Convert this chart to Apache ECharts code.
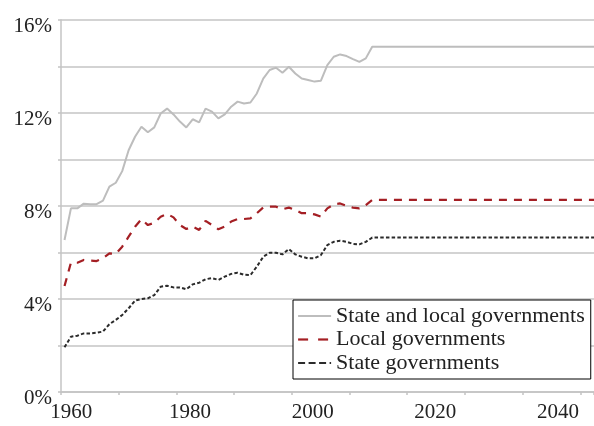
<!DOCTYPE html>
<html>
<head>
<meta charset="utf-8">
<script src="https://cdn.jsdelivr.net/npm/echarts@6/dist/echarts.min.js"></script>
<style>
html,body{margin:0;padding:0;background:#fff;}
#chart{width:594px;height:426px;}
</style>
</head>
<body>
<div id="chart"></div>
<script>
// ---- Data ----
const years = [1960,1961,1962,1963,1964,1965,1966,1967,1968,1969,
  1970,1971,1972,1973,1974,1975,1976,1977,1978,1979,
  1980,1981,1982,1983,1984,1985,1986,1987,1988,1989,
  1990,1991,1992,1993,1994,1995,1996,1997,1998,1999,
  2000,2001,2002,2003,2004,2005,2006,2007,2008];

const stateAndLocal = [6.54,7.9,7.9,8.1,8.08,8.08,8.23,8.83,9.0,9.5,
  10.4,10.98,11.41,11.17,11.38,11.98,12.19,11.94,11.63,11.38,
  11.73,11.6,12.19,12.06,11.77,11.94,12.27,12.49,12.41,12.45,
  12.84,13.48,13.85,13.95,13.73,13.99,13.7,13.48,13.42,13.35,
  13.39,14.06,14.42,14.52,14.45,14.32,14.2,14.35,14.85];

const localGov = [4.56,5.56,5.56,5.68,5.65,5.63,5.75,5.96,5.94,6.25,
  6.68,7.11,7.43,7.18,7.28,7.54,7.66,7.51,7.18,7.01,
  7.11,6.97,7.36,7.18,7.0,7.12,7.33,7.44,7.44,7.47,
  7.69,7.94,7.97,7.97,7.86,7.93,7.83,7.69,7.69,7.64,
  7.54,7.9,8.07,8.11,8.01,7.93,7.9,8.04,8.26];

const stateGov = [1.92,2.38,2.42,2.52,2.52,2.55,2.6,2.92,3.1,3.31,
  3.6,3.93,4.0,4.03,4.17,4.53,4.57,4.5,4.5,4.42,
  4.63,4.7,4.85,4.9,4.82,4.96,5.08,5.13,5.04,5.03,
  5.39,5.82,5.99,5.99,5.92,6.15,5.92,5.82,5.75,5.75,
  5.89,6.32,6.46,6.51,6.46,6.37,6.35,6.46,6.64];

const projectionEndYear = 2050;   // last value held flat to the right edge

const seriesNames = ['State and local governments','Local governments','State governments'];
const xLabelValues = [1960,1980,2000,2020,2040];

// ---- helpers ----
function toPairs(vals){
  const p = years.map((y,i)=>[y, vals[i]]);
  p.push([projectionEndYear, vals[vals.length-1]]);
  return p;
}

const FONT = '"Liberation Serif", "Times New Roman", serif';
const GRID_COLOR = '#c4c4c4';
const TEXT_COLOR = '#222';
const GRAY = '#bdbdbd', RED = '#a41f24', BLACK = '#2b2b2b';

const chart = echarts.init(document.getElementById('chart'), null, {renderer:'canvas'});

const option = {
  animation: false,
  backgroundColor: '#fff',
  textStyle: { fontFamily: FONT },
  grid: { left: 61, top: 20, right: 0, bottom: 34, containLabel: false },
  legend: {
    data: [
      { name: seriesNames[0] },
      { name: seriesNames[1], lineStyle: { type: [10, 10], width: 2.2, color: RED } },
      { name: seriesNames[2], lineStyle: { type: [7, 3.5], width: 2, color: BLACK } }
    ],
    orient: 'vertical',
    left: 293, top: 300,
    padding: [5, 6, 5, 4],
    itemWidth: 33, itemHeight: 14, itemGap: 1.5,
    itemTextGap: 5,
    itemStyle: { opacity: 0 },
    backgroundColor: '#fff',
    borderColor: '#000', borderWidth: 1,
    textStyle: { fontFamily: FONT, fontSize: 22, color: TEXT_COLOR, lineHeight: 22 }
  },
  xAxis: [
    { // data scale
      type: 'value', position: 'bottom',
      min: 1959.45, max: 2042.6,
      axisLine: { show: true, lineStyle: { color: GRID_COLOR, width: 1.5 } },
      axisTick: { show: false }, axisLabel: { show: false }, splitLine: { show: false }
    },
    { // label scale
      type: 'value', position: 'bottom', offset: 0,
      min: 1958.97, max: 2045.88,
      axisLine: { show: false }, axisTick: { show: false }, splitLine: { show: false },
      axisLabel: {
        customValues: xLabelValues,
        margin: 10, fontFamily: FONT, fontSize: 21, color: TEXT_COLOR,
        formatter: v => v === xLabelValues[0] ? '{f|' + v + '}' : String(v),
        rich: { f: { fontFamily: FONT, fontSize: 21, color: TEXT_COLOR, padding: [0,0,0,8] } }
      }
    },
    { // tick marks
      type: 'value', position: 'bottom', offset: 0,
      min: 0, max: 533/57.7, interval: 1,
      axisLine: { show: false }, splitLine: { show: false }, axisLabel: { show: false },
      axisTick: { show: true, length: 3, lineStyle: { color: GRID_COLOR, width: 1.5 } }
    }
  ],
  yAxis: {
    type: 'value', min: 0, max: 16, interval: 2,
    axisLine: { show: true, lineStyle: { color: GRID_COLOR, width: 1.5 } },
    axisTick: { show: true, length: 3, lineStyle: { color: GRID_COLOR, width: 1.5 } },
    splitLine: { show: true, lineStyle: { color: GRID_COLOR, width: 1.5 } },
    axisLabel: {
      margin: 9, fontFamily: FONT, fontSize: 21, color: TEXT_COLOR,
      verticalAlign: 'top', lineHeight: 12,
      formatter: v => (v % 4 === 0) ? v + '%' : ''
    }
  },
  series: [
    {
      name: seriesNames[0], type: 'line', xAxisIndex: 0,
      data: toPairs(stateAndLocal), symbol: 'none', clip: true,
      lineStyle: { color: GRAY, width: 2 }, itemStyle: { color: GRAY }, z: 3
    },
    {
      name: seriesNames[1], type: 'line', xAxisIndex: 0,
      data: toPairs(localGov), symbol: 'none', clip: true,
      lineStyle: { color: RED, width: 2.2, type: [8, 7] }, itemStyle: { color: RED }, z: 4
    },
    {
      name: seriesNames[2], type: 'line', xAxisIndex: 0,
      data: toPairs(stateGov), symbol: 'none', clip: true,
      lineStyle: { color: BLACK, width: 2, type: [3.5, 2.2] }, itemStyle: { color: BLACK }, z: 5
    }
  ]
};
chart.setOption(option);
</script>
</body>
</html>
